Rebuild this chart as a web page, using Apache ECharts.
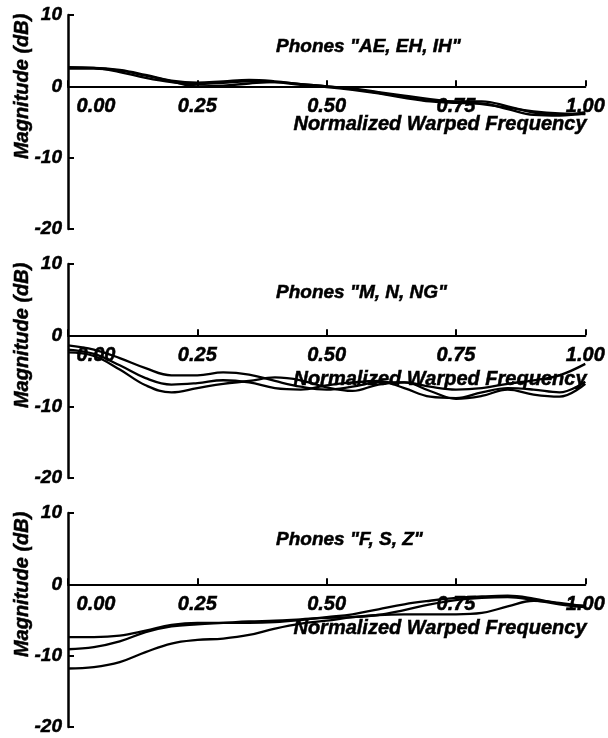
<!DOCTYPE html>
<html>
<head>
<meta charset="utf-8">
<script src="https://cdn.jsdelivr.net/npm/echarts@6/dist/echarts.min.js"></script>
<style>
html,body{margin:0;padding:0;background:#fff;}
#chart{width:608px;height:738px;}
</style>
</head>
<body>
<div id="chart"></div>
<script>
// ---- data ----
const freq = [0,0.05,0.10,0.15,0.20,0.25,0.30,0.35,0.40,0.45,0.50,0.55,0.60,0.65,0.70,0.75,0.80,0.85,0.90,0.95,1.00];
const xTicks = [0, 0.25, 0.5, 0.75, 1.0];
const yTicks = [-20, -10, 0, 10];
const panelTitles = ['Phones "AE, EH, IH"', 'Phones "M, N, NG"', 'Phones "F, S, Z"'];
const xName = 'Normalized Warped Frequency';
const yName = 'Magnitude (dB)';

// Phones AE, EH, IH
const ae1 = [2.6, 2.6, 2.3, 1.6, 0.8, 0.5, 0.7, 0.9, 0.7, 0.3, 0.0, -0.4, -0.9, -1.5, -2.0, -2.1, -2.1, -2.8, -3.7, -4.0, -3.6];
const ae2 = [2.7, 2.6, 2.0, 1.2, 0.6, 0.3, 0.5, 0.7, 0.6, 0.2, -0.1, -0.5, -1.0, -1.6, -2.1, -2.3, -2.4, -3.2, -4.0, -4.1, -3.8];
const ae3 = [2.5, 2.5, 2.2, 1.5, 0.7, 0.0, 0.1, 0.4, 0.6, 0.3, 0.0, -0.3, -0.8, -1.3, -1.8, -2.2, -2.5, -3.0, -3.5, -3.8, -3.9];
// Phones M, N, NG
const m1 = [-1.4, -2.0, -3.2, -4.6, -5.6, -5.6, -5.2, -5.5, -6.4, -7.2, -7.6, -7.2, -6.6, -6.6, -7.2, -7.6, -7.4, -6.8, -6.3, -5.6, -4.0];
const m2 = [-2.0, -2.6, -4.2, -6.0, -6.9, -6.7, -6.3, -6.6, -7.4, -7.6, -7.0, -6.6, -6.4, -7.4, -8.6, -8.8, -8.0, -7.4, -7.6, -8.0, -6.5];
const m3 = [-2.4, -2.9, -4.8, -7.0, -8.0, -7.4, -6.8, -6.4, -5.9, -6.3, -7.3, -7.8, -6.9, -6.6, -7.8, -8.9, -8.5, -7.6, -8.3, -8.6, -6.8];
// Phones F, S, Z
const f1 = [-7.4, -7.4, -7.2, -6.5, -5.7, -5.4, -5.4, -5.4, -5.3, -5.0, -4.6, -4.2, -3.5, -2.8, -2.3, -1.9, -1.7, -1.6, -2.0, -2.7, -3.0];
const f2 = [-9.1, -8.8, -8.0, -6.7, -5.9, -5.6, -5.4, -5.2, -5.1, -4.9, -4.7, -4.6, -4.3, -3.6, -2.8, -2.2, -1.9, -1.8, -2.2, -2.8, -3.2];
const f3 = [-11.8, -11.6, -10.9, -9.5, -8.3, -7.8, -7.6, -7.1, -6.2, -5.5, -5.1, -4.6, -4.3, -4.2, -4.2, -4.2, -4.0, -3.1, -2.3, -2.6, -3.1];

const panels = [[ae1, ae2, ae3], [m1, m2, m3], [f1, f2, f3]];

// ---- layout / style ----
const FONT = '"Liberation Sans", Arial, Helvetica, sans-serif';
const gridTops = [15, 264, 513];
const gridH = 214;
const yMin = yTicks[0], yMax = yTicks[yTicks.length - 1];
const zeroFromBottom = gridH * (0 - yMin) / (yMax - yMin);
const titleTops = [37, 283, 530];
const nameTops = [114, 369, 618];
const heavy = {fontFamily: FONT, fontWeight: 'bold', fontStyle: 'italic', color: '#000', textBorderColor: '#000', textBorderWidth: 0.5};
const txt = Object.assign({fontSize: 19}, heavy);
const nameTxt = Object.assign({fontSize: 20}, heavy);

const grids = [], xAxes = [], yAxes = [], series = [], titles = [], graphics = [];
panels.forEach((curves, i) => {
  grids.push({left: 68, width: 519, top: gridTops[i], height: gridH});
  xAxes.push({
    type: 'value', gridIndex: i, min: xTicks[0], max: xTicks[xTicks.length - 1], interval: 0.25,
    position: 'bottom', offset: -zeroFromBottom,
    axisLine: {onZero: false, lineStyle: {color: '#000', width: 2}},
    axisTick: {inside: true, length: 6, lineStyle: {color: '#000', width: 2}},
    splitLine: {show: false},
    axisLabel: Object.assign({
      margin: 10, showMinLabel: true, showMaxLabel: true, fontSize: 20,
      formatter: v => v === 0 ? '{z|0.00}' : v.toFixed(2),
      rich: {z: Object.assign({padding: [0, 0, 0, 56], fontSize: 20}, heavy)}
    }, heavy)
  });
  yAxes.push({
    type: 'value', gridIndex: i, min: yMin, max: yMax, interval: 10,
    axisLine: {show: true, onZero: false, lineStyle: {color: '#000', width: 2.5}},
    axisTick: {show: true, inside: true, length: 6, lineStyle: {color: '#000', width: 2}},
    splitLine: {show: false},
    axisLabel: Object.assign({margin: 6, fontSize: 19, padding: [8, 0, 0, 0]}, heavy)
  });
  curves.forEach(c => {
    series.push({
      type: 'line', xAxisIndex: i, yAxisIndex: i, smooth: 0.4, showSymbol: false,
      lineStyle: {color: '#000', width: 2.3}, silent: true,
      data: freq.map((f, k) => [f, c[k]])
    });
  });
  titles.push({text: panelTitles[i], left: 276, top: titleTops[i], padding: 0, textStyle: txt});
  titles.push({text: xName, right: 21, top: nameTops[i], padding: 0, textStyle: nameTxt});
  graphics.push({
    type: 'text', x: 22, y: gridTops[i] + gridH - zeroFromBottom, rotation: Math.PI / 2,
    style: {text: yName, fill: '#000', stroke: '#000', lineWidth: 0.5, font: 'italic bold 20px ' + FONT, align: 'center', verticalAlign: 'middle'}
  });
});

const chart = echarts.init(document.getElementById('chart'), null, {renderer: 'canvas'});
chart.setOption({
  animation: false,
  backgroundColor: '#fff',
  title: titles,
  grid: grids,
  xAxis: xAxes,
  yAxis: yAxes,
  series: series,
  graphic: graphics
});
</script>
</body>
</html>
